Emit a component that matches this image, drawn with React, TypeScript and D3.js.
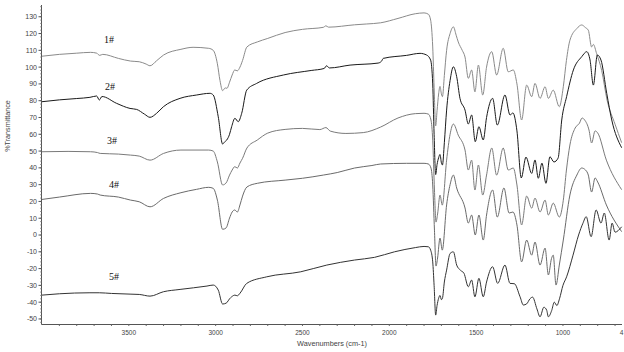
import React from "react";
import * as d3 from "d3";

type Pt = [number, number];

const seriesNames = ["1#", "2#", "3#", "4#", "5#"];

const s1: Pt[] = [
  [4000,106.5],[3900,107.6],[3800,108.3],[3720,108.8],[3685,108.3],[3668,107],[3650,107.6],[3560,105.2],[3490,103.6],[3440,103.2],[3400,101.8],[3378,100.8],[3340,103.8],[3300,107.2],[3200,110.6],[3130,111.8],[3040,111.2],[3014,110],[2990,102],[2975,92],[2960,86],[2945,87.6],[2935,87.4],[2920,91],[2905,95.3],[2890,98.3],[2875,97.8],[2860,100],[2845,104],[2820,112],[2760,115],[2700,117.1],[2600,120.6],[2500,122.5],[2380,123.7],[2365,124.6],[2350,123.8],[2200,125.2],[2130,125.7],[2050,126.4],[1950,129],[1850,131.8],[1800,132.3],[1775,131.5],[1762,128],[1750,112],[1742,88],[1733,65],[1725,74],[1716,84],[1708,88.5],[1700,84],[1694,82.4],[1683,95],[1670,110],[1650,120],[1631,124],[1615,119],[1603,115],[1580,110],[1564,106],[1545,93.3],[1526,98.3],[1507,85.3],[1487,101.2],[1462,83.4],[1440,100],[1410,109.2],[1382,95.3],[1344,111.2],[1315,97.2],[1286,98.3],[1265,90],[1238,68.5],[1209,89.3],[1180,82.4],[1161,90.3],[1132,81.4],[1103,88.3],[1084,81.4],[1056,86.3],[1021,76.4],[998,88.3],[980,104],[960,116],[920,123],[892,125.1],[870,123.5],[854,122],[835,112],[825,113.5],[806,108],[777,98],[746,80.4],[700,66],[662,55]
];

const s2: Pt[] = [
  [4000,79.4],[3900,80.5],[3800,81.3],[3724,82],[3685,82.8],[3670,80.4],[3655,82.5],[3570,78.4],[3493,75.4],[3455,74.8],[3410,72],[3378,70.1],[3340,72.5],[3301,76.4],[3205,81.4],[3109,83.4],[3033,84.4],[3014,83.4],[2985,70.4],[2960,54.2],[2948,55.5],[2936,56.6],[2920,60],[2908,64.5],[2889,69.5],[2870,67.5],[2850,72.5],[2821,86.3],[2764,90.3],[2610,95.3],[2450,98],[2375,99.2],[2361,100.8],[2345,99.5],[2226,101.2],[2065,102.4],[2045,103.5],[2035,105.2],[1900,107],[1823,108.2],[1785,107.2],[1762,104.2],[1750,90],[1742,60],[1733,36],[1725,42],[1716,46],[1708,48],[1700,43],[1694,41.7],[1683,55],[1670,74.4],[1650,92],[1631,100.2],[1612,94.3],[1593,81.4],[1564,74.4],[1545,66.1],[1526,71.5],[1505,55.6],[1484,64.5],[1459,56.6],[1440,70],[1405,81.4],[1378,65.5],[1334,83.4],[1305,71.5],[1288,72.7],[1265,62],[1240,34],[1213,46.4],[1180,36.7],[1161,44.7],[1142,33.8],[1121,42.8],[1098,30.8],[1075,46.6],[1052,43.5],[1028,45.8],[1007,68.5],[979,82.4],[940,98.3],[892,106.2],[863,109.2],[844,104.2],[825,89.3],[802,107.2],[781,104.2],[748,84.4],[719,68.5],[662,52]
];

const s3: Pt[] = [
  [4000,49.6],[3850,49.8],[3720,49.6],[3680,49.1],[3665,48.6],[3560,48.2],[3490,47.6],[3440,47],[3378,44.6],[3300,48.6],[3200,50.6],[3040,50.6],[3014,50],[2990,43.5],[2960,29.8],[2940,31],[2920,35.7],[2905,38.7],[2890,40.7],[2875,39.9],[2860,42.9],[2845,45.7],[2820,51.8],[2760,56.6],[2700,60.7],[2600,62.9],[2500,63.5],[2400,62.8],[2365,64],[2340,61.9],[2250,60.5],[2150,61],[2050,64.3],[1950,69.7],[1850,72.3],[1800,72.5],[1775,72],[1760,68.5],[1750,56.5],[1740,26.8],[1731,7.7],[1722,12.5],[1708,23.8],[1695,17.8],[1670,44.6],[1650,60],[1631,66.1],[1603,59.5],[1564,50.6],[1545,38.7],[1526,44.6],[1507,26.8],[1487,41.7],[1462,23.8],[1440,35.7],[1410,51.8],[1382,35.7],[1344,51.8],[1315,38.7],[1286,39.9],[1265,29.8],[1238,6],[1209,23.2],[1180,16],[1161,22],[1132,13.7],[1103,20.8],[1084,11.9],[1056,19],[1021,10.7],[998,20.7],[980,38.7],[960,53.6],[930,63.7],[905,66.6],[890,69.7],[875,68.5],[850,62.5],[835,54.8],[815,62],[800,60.8],[750,44.6],[662,27]
];

const s4: Pt[] = [
  [4000,21.2],[3900,22.6],[3720,24.8],[3680,24.4],[3665,23.8],[3560,22.6],[3490,20.8],[3440,19.8],[3378,16.8],[3300,21.8],[3200,25.2],[3110,27.2],[3040,28.4],[3014,27.8],[2990,20.8],[2960,3.4],[2940,4.2],[2920,10.1],[2905,13.7],[2890,14.9],[2875,13.7],[2860,17.9],[2845,23.2],[2820,28.6],[2760,30.8],[2600,32.7],[2500,33.8],[2380,35.7],[2300,37.2],[2200,39.9],[2100,41.4],[2050,42.3],[1900,42.7],[1800,42.7],[1775,42.3],[1760,39.9],[1750,29.8],[1740,2.9],[1731,-18.5],[1722,-13.7],[1708,-1.8],[1695,-9],[1670,17.9],[1650,30],[1631,35.7],[1612,28],[1564,16.1],[1545,7.1],[1526,11.9],[1505,0],[1484,11.9],[1459,-3],[1440,11.9],[1405,26.8],[1378,10.7],[1340,28],[1310,13.1],[1288,13.7],[1265,6],[1238,-16],[1209,-3],[1180,-12],[1161,-4.2],[1132,-17.9],[1103,-7.8],[1084,-23.8],[1066,-14],[1056,-12],[1040,-29.8],[1021,-17.9],[998,-3],[960,23.8],[920,35.7],[892,39.9],[870,38.7],[854,35.7],[835,25.6],[815,34],[800,31.6],[750,17.9],[662,2]
];

const s5: Pt[] = [
  [4000,-35.8],[3900,-35],[3724,-34.4],[3670,-34.4],[3600,-34.8],[3493,-35.2],[3440,-35.4],[3378,-36.4],[3301,-33.8],[3205,-32.4],[3050,-30.4],[3014,-29.8],[2985,-32.8],[2960,-41.1],[2940,-40.6],[2936,-40.3],[2920,-38],[2908,-36.8],[2889,-35.8],[2875,-36.2],[2860,-34.7],[2821,-28.8],[2706,-24.9],[2510,-21.9],[2360,-17.9],[2200,-14.9],[2085,-13.3],[1970,-10],[1850,-7.5],[1800,-6.8],[1775,-7],[1762,-9],[1750,-16],[1742,-30],[1733,-47.7],[1725,-42],[1716,-37.7],[1708,-36],[1700,-38.5],[1694,-37.7],[1683,-28],[1670,-20.9],[1650,-11],[1631,-10],[1612,-17.9],[1590,-21],[1570,-22.8],[1545,-30.8],[1526,-26.8],[1507,-36.8],[1484,-25.8],[1459,-36.8],[1440,-28],[1405,-18.9],[1376,-28.8],[1334,-17.9],[1305,-28.8],[1280,-29],[1247,-36.8],[1228,-41.7],[1209,-41],[1190,-38],[1175,-37],[1150,-44],[1132,-48.7],[1110,-43],[1094,-44.7],[1084,-48.7],[1065,-45],[1050,-40],[1035,-42],[1020,-38],[1000,-30],[979,-24.9],[942,-12],[910,0],[885,7],[866,10.9],[838,-1],[809,14.9],[781,7.1],[762,13.1],[734,-3],[717,7.1],[700,1.7],[662,4.9]
];

const allSeries: Pt[][] = [s1, s2, s3, s4, s5];
const seriesColors = ["#8a8a8a", "#1a1a1a", "#7a7a7a", "#6a6a6a", "#333333"];
const labelPos: Pt[] = [[3614, 114.2], [3608, 86.4], [3597, 54.4], [3585, 28.2], [3585, -27]];

const xMajorTicks = [3500, 3000, 2500, 2000, 1500, 1000];
const yMajorTicks = d3.range(-50, 131, 10);

export default function App() {
  const W = 624, H = 352;
  const x = d3.scaleLinear().domain([4000, 660]).range([42, 622]);
  const y = d3.scaleLinear().domain([-53, 137]).range([324, 5]);
  const line = d3
    .line<Pt>()
    .x((d) => x(d[0]))
    .y((d) => y(d[1]))
    .curve(d3.curveMonotoneX);

  const xMinor = d3.range(700, 4000, 100);
  const yMinor = d3.range(-52, 137, 2);

  return (
    <svg width={W} height={H} style={{ position: "absolute", left: 0, top: 0, background: "#fff" }}>
      <rect x={0} y={0} width={W} height={H} fill="#fff" />
      <line x1={41.5} x2={41.5} y1={5} y2={324.5} stroke="#555" strokeWidth={1} />
      <line x1={41.5} x2={622} y1={324.5} y2={324.5} stroke="#555" strokeWidth={1} />
      {yMinor.map((v) => (
        <line key={"ym" + v} x1={40} x2={41.5} y1={y(v)} y2={y(v)} stroke="#888" strokeWidth={0.8} />
      ))}
      {yMajorTicks.map((v) => (
        <g key={"y" + v}>
          <line x1={38.5} x2={41.5} y1={y(v)} y2={y(v)} stroke="#555" strokeWidth={1} />
          <text x={37} y={y(v)} dy="0.35em" textAnchor="end" fontFamily="Liberation Sans, Arial, sans-serif" fontSize={7} fill="#444">
            {v}
          </text>
        </g>
      ))}
      {xMinor.map((v) => (
        <line key={"xm" + v} x1={x(v)} x2={x(v)} y1={324.5} y2={326} stroke="#666" strokeWidth={1} />
      ))}
      {xMajorTicks.map((v) => (
        <text key={"x" + v} x={x(v)} y={334.5} textAnchor="middle" fontFamily="Liberation Sans, Arial, sans-serif" fontSize={6.5} fill="#444">
          {v}
        </text>
      ))}
      <text x={621.5} y={335} textAnchor="middle" fontFamily="Liberation Sans, Arial, sans-serif" fontSize={6.5} fill="#444">4</text>
      <text x={332} y={345.5} textAnchor="middle" fontFamily="Liberation Sans, Arial, sans-serif" fontSize={7.3} fill="#444">
        Wavenumbers (cm-1)
      </text>
      <text
        transform={`translate(9.5,126) rotate(-90)`}
        textAnchor="middle"
        fontFamily="Liberation Sans, Arial, sans-serif"
        fontSize={7.2}
        fill="#444"
      >
        %Transmittance
      </text>
      {allSeries.map((s, i) => (
        <path key={"s" + i} d={line(s) || ""} fill="none" stroke={seriesColors[i]} strokeWidth={1} />
      ))}
      {seriesNames.map((n, i) => (
        <text key={"l" + i} x={x(labelPos[i][0])} y={y(labelPos[i][1])} textAnchor="middle" fontFamily="Liberation Serif, Times New Roman, serif" fontSize={10} fill="#111">
          {n}
        </text>
      ))}
    </svg>
  );
}
